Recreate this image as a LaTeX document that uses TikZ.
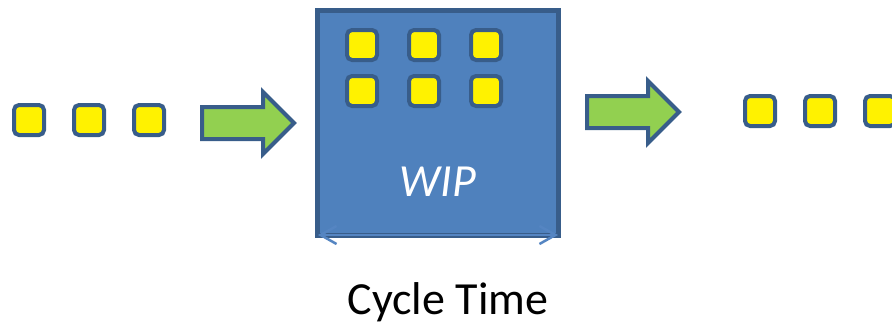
\documentclass[tikz,border=0pt]{standalone}
\usepackage{fontspec}
\setmainfont{Carlito}
\usetikzlibrary{positioning, shapes.arrows, arrows.meta}
\definecolor{outline}{HTML}{385D8A}
\definecolor{boxfill}{HTML}{4F81BD}
\definecolor{arrowfill}{HTML}{92D050}
\definecolor{spanline}{HTML}{5585C2}
\tikzset{
    item/.style = {draw = outline, fill = yellow, line width = 4pt, rounded corners = 5pt, minimum size = 30pt, inner sep = 0pt},
    flow/.style = {single arrow, draw = outline, fill = arrowfill, line width = 4pt, minimum height = 92pt, single arrow head extend = 15pt, inner xsep = 0pt, inner ysep = 14pt},
    stage/.style = {draw = outline, fill = boxfill, line width = 5pt, minimum width = 241pt, minimum height = 225pt, inner sep = 0pt},
    big/.style = {font = \fontsize{46}{50}\selectfont, inner sep = 0pt},
    span/.style = {draw = spanline, line width = 2.5pt, {Straight Barb[length = 16pt, width = 18pt]}-{Straight Barb[length = 16pt, width = 18pt]}}
}
\begin{document}
\begin{tikzpicture}
        [
            x = 1pt, y = -1pt,
            node distance = 26pt
        ]
        \useasboundingbox (0,0) rectangle (892,324);
        % incoming items
        \node[item]                         (in1)   at (29,120) {};
        \node[item, right = of in1]         (in2)   {};
        \node[item, right = of in2]         (in3)   {};
        \node[flow]                         (enter) at (240,123) {};
        % work in progress
        \node[stage]                        (wip)   at (438,123) {};
        \node[item]                         (w1)    at (362,45) {};
        \node[item, right = 28pt of w1]     (w2)    {};
        \node[item, right = 28pt of w2]     (w3)    {};
        \node[item, below = 12pt of w1]     (w4)    {};
        \node[item, below = 12pt of w2]     (w5)    {};
        \node[item, below = 12pt of w3]     (w6)    {};
        \node[big, white, font = \fontsize{46}{50}\selectfont\itshape] (wiptext) at (438,182) {WIP};
        \draw[span] ([xshift = 3pt, yshift = 3pt]wip.south west) -- ([xshift = -3pt, yshift = 3pt]wip.south east);
        \node[big]                          (cycle) at (448,302) {Cycle Time};
        % outgoing items
        \node[flow]                         (leave) at (625,112) {};
        \node[item]                         (out1)  at (760,111) {};
        \node[item, right = of out1]        (out2)  {};
        \node[item, right = of out2]        (out3)  {};
    \end{tikzpicture}
\end{document}
